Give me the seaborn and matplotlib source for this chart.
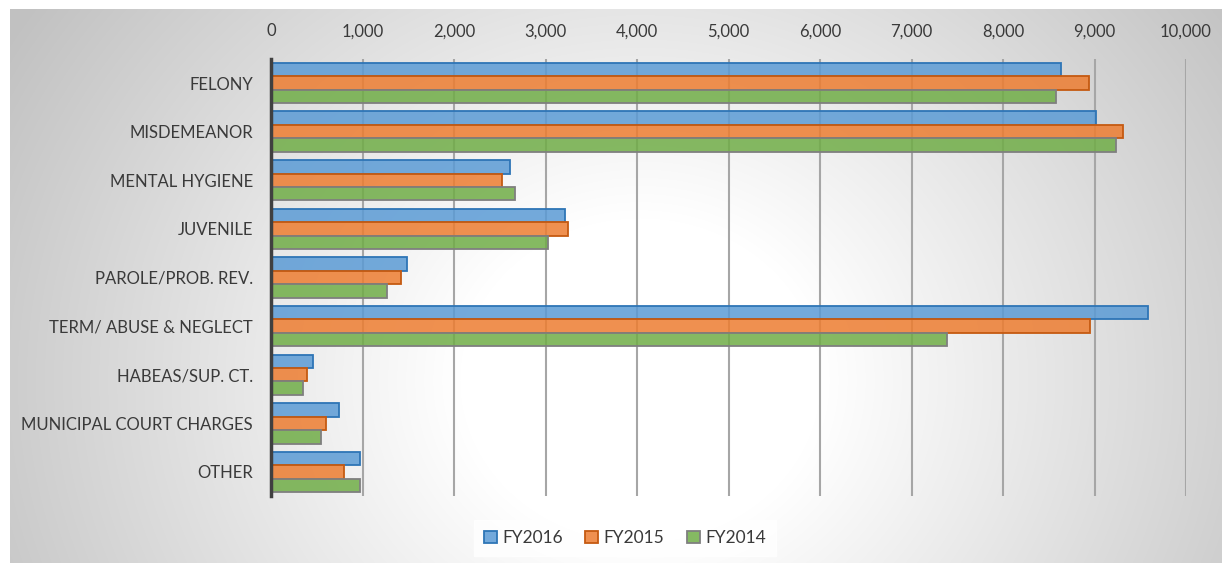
import numpy as np
import pandas as pd
import matplotlib
matplotlib.use("Agg")
import matplotlib.pyplot as plt
from matplotlib.ticker import FuncFormatter
from matplotlib.colors import to_rgba
import seaborn as sns

categories = ["FELONY", "MISDEMEANOR", "MENTAL HYGIENE", "JUVENILE",
              "PAROLE/PROB. REV.", "TERM/ ABUSE & NEGLECT", "HABEAS/SUP. CT.",
              "MUNICIPAL COURT CHARGES", "OTHER"]
years = ["FY2016", "FY2015", "FY2014"]
fy2016 = [8630, 9020, 2610, 3210, 1490, 9580, 460, 740, 975]
fy2015 = [8940, 9310, 2530, 3250, 1425, 8950, 390, 600, 800]
fy2014 = [8575, 9235, 2665, 3025, 1265, 7385, 345, 550, 975]
x_ticks = list(range(0, 10001, 1000))

fills = ["#5B9BD5", "#ED7D31", "#70AD47"]
edges = ["#2E75B6", "#C55A11", "#7F7F7F"]
text_color = "#3A3A3A"

df = pd.DataFrame({
    "category": categories * 3,
    "year": np.repeat(years, len(categories)),
    "value": fy2016 + fy2015 + fy2014,
})

sns.set_theme(style="white")
plt.rcParams["font.family"] = ["Lato", "DejaVu Sans"]

W, H = 1222, 563
fig = plt.figure(figsize=(W / 100, H / 100), dpi=100)
fig.patch.set_facecolor("white")

# radial grey-to-white backdrop of the chart area
x0, y0 = 10, 9
bg = fig.add_axes([x0 / W, 0, (W - x0) / W, (H - y0) / H], zorder=-5)
xx, yy = np.meshgrid(np.arange(x0, W), np.arange(y0, H))
d = np.sqrt(((xx - 640) / 1.0) ** 2 + ((yy - 380) / 0.9) ** 2)
t = np.clip((d - 180) / 560, 0, 1)
shade = 1 - t * (62 / 255)
img = np.dstack([shade, shade, shade])
bg.imshow(img, aspect="auto", extent=[0, 1, 0, 1])
bg.set_axis_off()

ax = fig.add_axes([271 / W, 1 - 496.3 / H, (1186 - 271) / W, (496.3 - 58.7) / H])
ax.set_facecolor("none")

sns.barplot(data=df, y="category", x="value", hue="year", hue_order=years,
            order=categories, orient="h", palette=fills, width=0.83, gap=0,
            ax=ax, legend=False, zorder=3)

for cont, fc, ec in zip(ax.containers, fills, edges):
    for bar in cont:
        bar.set_facecolor(to_rgba(fc, 0.85))
        bar.set_edgecolor(ec)
        bar.set_linewidth(1.3)

ax.set_xlim(0, 10000)
ax.set_ylim(len(categories) - 0.5, -0.5)
ax.set_xticks(x_ticks)
ax.xaxis.set_major_formatter(FuncFormatter(lambda v, p: f"{int(v):,}"))
ax.xaxis.tick_top()
ax.tick_params(axis="x", length=0, pad=14, labelsize=12, colors=text_color)
ax.tick_params(axis="y", length=0, pad=13, labelsize=12, colors=text_color)
ax.set_xlabel("")
ax.set_ylabel("")

ax.grid(axis="x", color="#A6A6A6", linewidth=1.5, zorder=1)
ax.grid(axis="y", visible=False)
ax.set_axisbelow(True)
for s in ["top", "right", "bottom"]:
    ax.spines[s].set_visible(False)
ax.spines["left"].set_color("#404040")
ax.spines["left"].set_linewidth(2.5)
ax.spines["left"].set_zorder(5)

handles = [cont.patches[0] for cont in ax.containers]
leg = fig.legend(handles, years, loc="center", bbox_to_anchor=(625 / W, 1 - 538 / H),
                 ncol=3, frameon=True, fancybox=False, handlelength=0.75,
                 handleheight=0.75, handletextpad=0.3, columnspacing=1.3,
                 borderpad=0.6, fontsize=12.5)
leg.get_frame().set_facecolor("white")
leg.get_frame().set_edgecolor("white")
for txt in leg.get_texts():
    txt.set_color(text_color)

fig.savefig("out.png", dpi=100)
